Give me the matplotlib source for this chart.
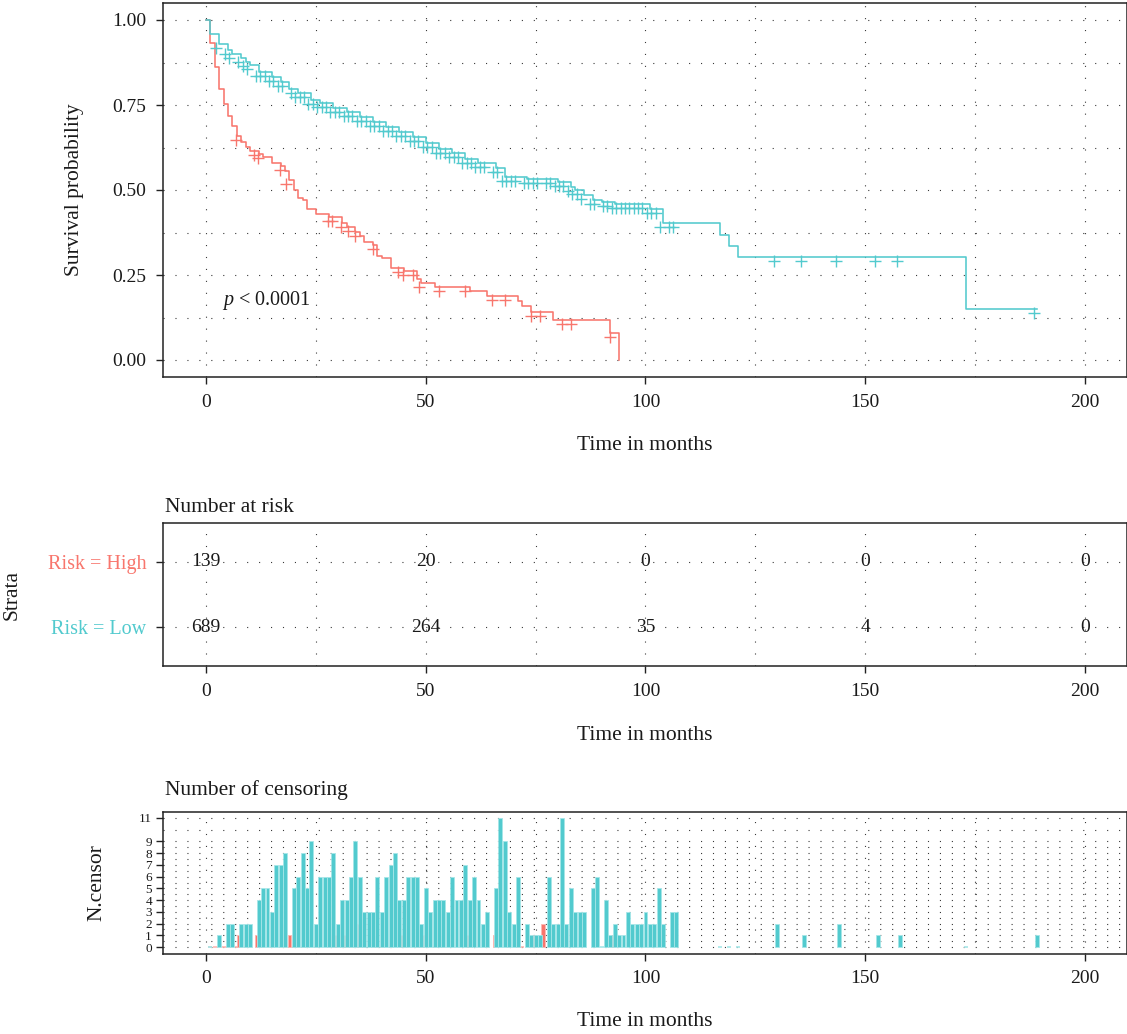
import numpy as np
import matplotlib
matplotlib.use("Agg")
import matplotlib.pyplot as plt
from matplotlib.transforms import ScaledTranslation

# ---------------- data ----------------
strata = ["Risk = High", "Risk = Low"]
colors = ["#F8766D", "#52CACE"]

# Kaplan-Meier steps (time of drop, survival after drop)
high_drop_t = [1, 2, 3, 4, 5, 6, 7, 8, 9, 10, 12, 13, 15, 17, 18, 19, 20, 21, 22, 23,
               25, 28, 31, 32, 34, 35, 36, 38, 39, 40, 42, 45, 48, 49, 52, 60, 64, 71,
               72, 74, 79, 92, 94]
high_drop_s = [0.931, 0.862, 0.797, 0.753, 0.718, 0.689, 0.660, 0.642, 0.627, 0.615,
               0.606, 0.596, 0.578, 0.571, 0.557, 0.529, 0.500, 0.476, 0.470, 0.443,
               0.428, 0.420, 0.402, 0.392, 0.377, 0.365, 0.348, 0.338, 0.306, 0.299,
               0.270, 0.263, 0.238, 0.227, 0.216, 0.203, 0.189, 0.174, 0.159, 0.142,
               0.118, 0.078, 0.0]
high_end = 94

low_drop_t = [1, 3, 5, 6, 8, 9, 10, 12, 15, 17, 19, 21, 24, 26, 29, 32, 35, 38, 41, 44,
              47, 50, 53, 56, 59, 62, 66, 68, 73, 80, 83, 84, 86, 88, 90, 93, 101, 104,
              117, 119, 121, 173]
low_drop_s = [0.960, 0.930, 0.913, 0.900, 0.887, 0.877, 0.868, 0.848, 0.833, 0.819,
              0.796, 0.784, 0.765, 0.755, 0.740, 0.730, 0.716, 0.701, 0.686, 0.671,
              0.657, 0.639, 0.622, 0.608, 0.590, 0.578, 0.564, 0.539, 0.531, 0.524,
              0.510, 0.500, 0.485, 0.472, 0.466, 0.458, 0.443, 0.402, 0.368, 0.335,
              0.302, 0.151]
low_end = 189

# censoring counts per time
high_cens_t = [7.6, 11.5, 12.6, 17.6, 19.0, 28.5, 29.4, 31.4, 32.9, 34.7, 38.6, 44.3,
               45.6, 47.8, 49.1, 53.7, 59.6, 65.7, 68.7, 74.7, 76.7, 81.7, 83.8, 92.5]
high_cens_n = [1, 1, 1, 2, 1, 1, 1, 1, 1, 2, 1, 1,
               1, 1, 1, 1, 1, 1, 1, 1, 2, 1, 1, 1]

low_cens_t = [3, 5, 6, 8, 9, 10, 12, 13, 14, 15, 16, 17, 18, 20, 21, 22, 23, 24, 25, 26,
              27, 28, 29, 30, 31, 32, 33, 34, 35, 36, 37, 38, 39, 40, 41, 42, 43, 44, 45,
              46, 47, 48, 49, 50, 51, 52, 53, 54, 55, 56, 57, 58, 59, 60, 61, 62, 63, 64,
              66, 67, 68, 69, 70, 71, 73, 74, 75, 76, 78, 79, 80, 81, 82, 83, 84, 85, 86,
              88, 89, 91, 92, 93, 94, 95, 96, 97, 98, 99, 100, 101, 102, 103, 104, 106,
              107, 130, 136, 144, 153, 158, 189]
low_cens_n = [1, 2, 2, 2, 2, 2, 4, 5, 5, 3, 7, 7, 8, 5, 6, 8, 5, 9, 2, 6,
              6, 6, 8, 2, 4, 4, 6, 9, 6, 3, 3, 3, 6, 3, 6, 7, 8, 4, 4,
              6, 6, 6, 2, 5, 3, 4, 4, 4, 3, 6, 4, 4, 7, 4, 6, 4, 2, 3,
              5, 11, 9, 3, 2, 6, 2, 1, 1, 1, 6, 2, 2, 11, 2, 5, 3, 3, 3,
              5, 6, 4, 1, 2, 1, 1, 3, 2, 2, 2, 3, 2, 2, 5, 2, 3,
              3, 2, 1, 2, 1, 1, 1]

# number at risk table
risk_times = [0, 50, 100, 150, 200]
risk_high = [139, 20, 0, 0, 0]
risk_low = [689, 264, 35, 4, 0]

# ---------------- style ----------------
plt.rcParams["font.family"] = ["Liberation Serif", "DejaVu Serif"]
plt.rcParams["mathtext.fontset"] = "custom"
plt.rcParams["mathtext.it"] = "Liberation Serif:italic"
plt.rcParams["mathtext.rm"] = "Liberation Serif"
plt.rcParams["lines.scale_dashes"] = False

W, H = 1127, 1034
fig = plt.figure(figsize=(W / 100, H / 100), dpi=100)


def rect(l, t, r, b):
    return [l / W, 1 - b / H, (r - l) / W, (b - t) / H]


XL = (-9.78, 209.6)
GRID = dict(color="#3a3a3a", linewidth=0.8, linestyle=(0, (0.8, 7.8)))
TXT = "#1a1a1a"


def style_axis(ax, ytick_size=13.5):
    for sp in ax.spines.values():
        sp.set_linewidth(1.1)
        sp.set_color("#222222")
    ax.tick_params(axis="both", which="major", length=5, width=1.0, color="#222222",
                   labelsize=14, labelcolor=TXT, pad=7)
    ax.tick_params(axis="y", labelsize=ytick_size)
    ax.tick_params(axis="both", which="minor", length=0)
    ax.set_xlim(*XL)
    ax.set_xticks(risk_times)
    ax.set_xticks([25, 75, 125, 175], minor=True)
    ax.set_axisbelow(True)


def steps(drop_t, drop_s, end):
    x = np.concatenate([[0], drop_t, [end]]).astype(float)
    y = np.concatenate([[1.0], drop_s, [drop_s[-1]]])
    return x, y


def surv_at(drop_t, drop_s, t):
    xs = np.concatenate([[0], drop_t])
    ys = np.concatenate([[1.0], drop_s])
    idx = np.searchsorted(xs, t, side="right") - 1
    return ys[idx]


# ---------------- survival plot ----------------
ax1 = fig.add_axes(rect(163, 3, 1127.2, 377))
style_axis(ax1, ytick_size=14)
ax1.set_ylim(-0.05, 1.05)
ax1.set_yticks([0, 0.25, 0.5, 0.75, 1.0])
ax1.set_yticklabels(["0.00", "0.25", "0.50", "0.75", "1.00"])
ax1.set_yticks([0.125, 0.375, 0.625, 0.875], minor=True)
ax1.grid(True, which="both", **GRID)

groups = [(high_drop_t, high_drop_s, high_end, high_cens_t),
          (low_drop_t, low_drop_s, low_end, low_cens_t)]
off = ScaledTranslation(-3 / 100, -4 / 100, fig.dpi_scale_trans)
for (dt, ds, end, ct), col in zip(groups, colors):
    x, y = steps(dt, ds, end)
    ax1.step(x, y, where="post", color=col, linewidth=1.15, zorder=3)
    cs = surv_at(dt, ds, np.array(ct))
    ax1.plot(ct, cs, linestyle="none", marker="+", markersize=9, markeredgewidth=1.0,
             color=col, zorder=4, transform=ax1.transData + off)

ax1.text(3.6, 0.176, r"$p$ < 0.0001", fontsize=14.5, color=TXT, va="center", ha="left")
ax1.set_xlabel("Time in months", fontsize=15.5, color=TXT)
ax1.xaxis.label.set_va("center")
ax1.xaxis.set_label_coords(0.5, -(445 - 377) / 374)
ax1.set_ylabel("Survival probability", fontsize=15.5, color=TXT)
ax1.yaxis.label.set_va("center")
ax1.yaxis.set_label_coords(-(163 - 75) / 964.2, 0.5)

# ---------------- risk table ----------------
ax2 = fig.add_axes(rect(163, 523, 1127.2, 666))
style_axis(ax2, ytick_size=14.5)
ax2.set_ylim(0.4, 2.6)
ax2.set_yticks([2, 1])
ax2.set_yticklabels(strata)
for lab, col in zip(ax2.get_yticklabels(), colors):
    lab.set_color(col)
ax2.grid(True, axis="x", which="both", **GRID)
ax2.grid(True, axis="y", which="major", **GRID)
for tt, nh, nl in zip(risk_times, risk_high, risk_low):
    ax2.text(tt, 2, str(nh), ha="center", va="center", fontsize=14, color=TXT)
    ax2.text(tt, 1, str(nl), ha="center", va="center", fontsize=14, color=TXT)
ax2.text(0.002, 1 + (523 - 507) / 143, "Number at risk", transform=ax2.transAxes,
         ha="left", va="center", fontsize=15.5, color=TXT)
ax2.set_xlabel("Time in months", fontsize=15.5, color=TXT)
ax2.xaxis.label.set_va("center")
ax2.xaxis.set_label_coords(0.5, -(735 - 666) / 143)
ax2.set_ylabel("Strata", fontsize=15.5, color=TXT)
ax2.yaxis.label.set_va("center")
ax2.yaxis.set_label_coords(-(163 - 12) / 964.2, 0.5)

# ---------------- censoring plot ----------------
ax3 = fig.add_axes(rect(163, 811.5, 1127.2, 953.5))
style_axis(ax3, ytick_size=9.5)
ax3.set_ylim(-0.55, 11.55)
ymaj = np.unique(np.concatenate([[0], high_cens_n, low_cens_n]))
ax3.set_yticks(ymaj)
ax3.set_yticks((ymaj[:-1] + ymaj[1:]) / 2, minor=True)
ax3.tick_params(axis="y", pad=3, length=5)
ax3.grid(True, which="both", **GRID)

light = ["#FBB8B3", "#A5E6E8"]
cens = [(high_drop_t, high_cens_t, high_cens_n), (low_drop_t, low_cens_t, low_cens_n)]
for (dt, ct, cn), col, lc in zip(cens, colors, light):
    ev = [t for t in dt if t not in ct]
    ax3.bar(ev, np.zeros(len(ev)), width=0.9, color=col, edgecolor=lc, linewidth=1.2,
            zorder=2)
    ax3.bar(ct, cn, width=0.9, color=col, edgecolor=lc, linewidth=0.6, zorder=3)

ax3.text(0.002, 1 + (811.5 - 790) / 142, "Number of censoring", transform=ax3.transAxes,
         ha="left", va="center", fontsize=15.5, color=TXT)
ax3.set_xlabel("Time in months", fontsize=15.5, color=TXT)
ax3.xaxis.label.set_va("center")
ax3.xaxis.set_label_coords(0.5, -(1022 - 953.5) / 142)
ax3.set_ylabel("N.censor", fontsize=15.5, color=TXT)
ax3.yaxis.label.set_va("center")
ax3.yaxis.set_label_coords(-(163 - 97) / 964.2, 0.5)

fig.savefig("out.png", dpi=100)
